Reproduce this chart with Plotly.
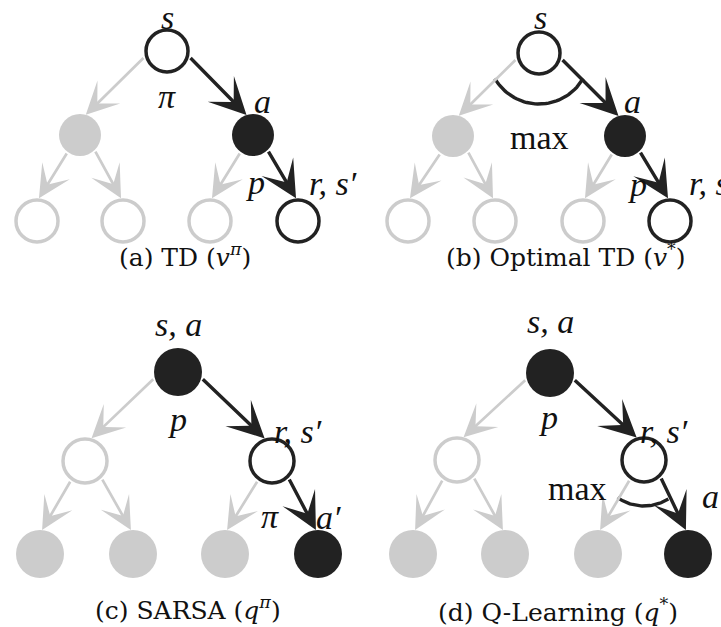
import numpy as np
import plotly.graph_objects as go

BLACK = "#222222"
GRAY = "#cccccc"
FONT = "Liberation Serif"
CAP_FONT = "DejaVu Serif"

# ---- diagram data (pixel-space coordinates, y grows downward) ----
panels = ["a", "b", "c", "d"]
kinds = ["v", "v", "q", "q"]          # v: state-value tree, q: action-value tree
top_x = [167, 539, 178, 550]
top_y = [51, 53, 372, 373]
mid_x = [[80, 253], [453, 625], [85, 272], [457, 644]]
mid_y = [135, 136, 461, 460]
bot_x = [[37, 123, 210, 298], [408, 495, 583, 670], [40, 133, 225, 318], [413, 505, 598, 688]]
bot_y = [221, 221, 554, 554]

captions = [
    "(a) TD (<i>v</i><sup><i>π</i></sup>)",
    "(b) Optimal TD (<i>v</i><sup>*</sup>)",
    "(c) SARSA (<i>q</i><sup><i>π</i></sup>)",
    "(d) Q-Learning (<i>q</i><sup>*</sup>)",
]
caption_x = [185, 566, 188, 558]
caption_y = [255, 255, 608, 610]

# labels: (text, x, y, xanchor, italic)
labels = [
    ("s", 167, 17, "center", True), ("π", 167, 96, "center", True),
    ("a", 262, 101, "center", True), ("p", 255, 182, "center", True),
    ("r, s′", 307, 183, "left", True),
    ("s", 540, 17, "center", True), ("max", 539, 137, "center", False),
    ("a", 632, 101, "center", True), ("p", 637, 184, "center", True),
    ("r, s′", 687, 183, "left", True),
    ("s, a", 178, 324, "center", True), ("p", 177, 419, "center", True),
    ("r, s′", 272, 431, "left", True), ("π", 270, 516, "center", True),
    ("a′", 328, 517, "center", True),
    ("s, a", 550, 321, "center", True), ("p", 548, 417, "center", True),
    ("r, s′", 638, 431, "left", True), ("max", 577, 488, "center", False),
    ("a′", 700, 496, "left", True),
]

# max arcs: (panel index, level of node, node index, radius, start deg, end deg)
arcs = [(1, 0, 0, 51, 30, 150), (3, 1, 1, 46, 58, 125)]

# ---- styles ----
OPEN_SIZE = {"v": 42, "q": 44}
FILL_SIZE = {"v": 42, "q": 48}
LW = 3.5

fig = go.Figure()
ann = []


def node_style(kind, level, color):
    filled = (kind == "v" and level == 1) or (kind == "q" and level != 1)
    if filled:
        return dict(size=FILL_SIZE[kind], color=color, line=dict(width=0)), FILL_SIZE[kind] / 2
    return dict(size=OPEN_SIZE[kind], color="white", line=dict(width=LW, color=color)), (OPEN_SIZE[kind] + LW) / 2


for p in range(4):
    kind = kinds[p]
    nodes = [(top_x[p], top_y[p], 0, True)]
    nodes += [(x, mid_y[p], 1, i == 1) for i, x in enumerate(mid_x[p])]
    nodes += [(x, bot_y[p], 2, i == 3) for i, x in enumerate(bot_x[p])]

    edges = [(nodes[0], nodes[1]), (nodes[0], nodes[2]),
             (nodes[1], nodes[3]), (nodes[1], nodes[4]),
             (nodes[2], nodes[5]), (nodes[2], nodes[6])]
    for par, ch in edges:
        hi = ch[3]
        col = BLACK if hi else GRAY
        _, rp = node_style(kind, par[2], col)
        _, rc = node_style(kind, ch[2], col)
        right = ch[0] > par[0]
        if par[2] == 0:
            th = np.radians(14 if right else 166)
            ph = np.radians(-108 if right else -74)
        else:
            th = np.radians(46 if right else 126)
            ph = np.radians(-95 if right else -85)
        tx, ty = par[0] + rp * np.cos(th), par[1] + rp * np.sin(th)
        hx, hy = ch[0] + rc * np.cos(ph), ch[1] + rc * np.sin(ph)
        ann.append(dict(x=hx, y=hy, ax=tx, ay=ty, xref="x", yref="y", axref="x", ayref="y",
                        showarrow=True, arrowhead=3, text="",
                        arrowwidth=3.4 if hi else 2.7, arrowsize=1.8 if hi else 2.0,
                        arrowcolor=col, standoff=0, startstandoff=0))

    for (x, y, lev, hi) in nodes:
        col = BLACK if hi else GRAY
        m, _ = node_style(kind, lev, col)
        fig.add_trace(go.Scatter(x=[x], y=[y], mode="markers", marker=m,
                                 hoverinfo="skip", showlegend=False))

    ann.append(dict(x=caption_x[p], y=caption_y[p], xref="x", yref="y", text=captions[p],
                    showarrow=False, xanchor="center", yanchor="middle",
                    font=dict(family=CAP_FONT, size=25, color="#111111")))

for (pi, lev, idx, r, a0, a1) in arcs:
    if lev == 0:
        cx, cy = top_x[pi], top_y[pi]
    else:
        cx, cy = mid_x[pi][idx], mid_y[pi]
    t = np.radians(np.linspace(a0, a1, 40))
    fig.add_trace(go.Scatter(x=cx + r * np.cos(t), y=cy + r * np.sin(t), mode="lines",
                             line=dict(color=BLACK, width=3.4), hoverinfo="skip", showlegend=False))

for (txt, x, y, xa, it) in labels:
    ann.append(dict(x=x, y=y, xref="x", yref="y", text=txt, showarrow=False,
                    xanchor=xa, yanchor="middle",
                    font=dict(family=FONT, size=34, color="#111111",
                              style="italic" if it else "normal")))

fig.update_layout(
    width=721, height=627, margin=dict(l=0, r=0, t=0, b=0),
    paper_bgcolor="white", plot_bgcolor="white",
    xaxis=dict(range=[0, 721], visible=False, fixedrange=True),
    yaxis=dict(range=[627, 0], visible=False, fixedrange=True),
    annotations=ann,
)
fig.write_html("out.html", config={"displayModeBar": False},
               post_script="document.body.style.margin='0px';document.body.style.overflow='hidden';")
